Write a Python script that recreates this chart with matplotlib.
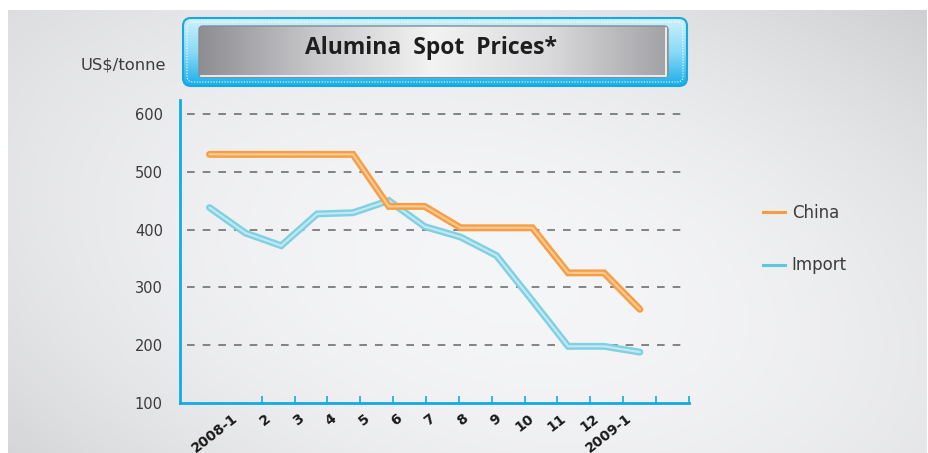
import numpy as np
import matplotlib
matplotlib.use("Agg")
import matplotlib.pyplot as plt
import matplotlib.transforms as mtransforms
from matplotlib.patches import FancyBboxPatch
from matplotlib.lines import Line2D
from matplotlib.colors import LinearSegmentedColormap

# data
months = ["2008-1", "2", "3", "4", "5", "6", "7", "8", "9", "10", "11", "12", "2009-1"]
china = [530, 530, 530, 530, 530, 440, 440, 403, 403, 403, 325, 325, 262]
imports = [438, 394, 372, 427, 429, 450, 405, 387, 355, 277, 198, 198, 188]
y_ticks = [100, 200, 300, 400, 500, 600]
grid_levels = [200, 300, 400, 500, 600]

W, H = 929, 453
fig = plt.figure(figsize=(W / 100, H / 100), dpi=100)
fig.patch.set_facecolor("white")

# ---- background gradient (pixel coords) ----
bg = fig.add_axes([0, 0, 1, 1], zorder=0)
bg.set_xlim(0, W)
bg.set_ylim(H, 0)
bg.axis("off")
xx, yy = np.meshgrid(np.arange(8, 927), np.arange(10, H))
fx, fy = xx / W, yy / H
d2 = ((xx - 480) / 600.0) ** 2 + ((yy - 230) / 360.0) ** 2
v = 242 - 28 * d2 + 15 * fx * fy - 9 * fx * (1 - fy) + 8 * (1 - fx) * (1 - fy)
v = np.clip(v, 180, 248) / 255.0
img = np.dstack([v - 0.004, v - 0.002, v + 0.004]).clip(0, 1)
bg.imshow(img, extent=(8, 927, H, 10), aspect="auto", interpolation="bilinear")


def grad_box(axh, x0, y0, x1, y1, r, colors, horizontal=False, **kw):
    box = FancyBboxPatch((x0, y0), x1 - x0, y1 - y0,
                         boxstyle=f"round,pad=0,rounding_size={r}", **kw)
    axh.add_patch(box)
    cmap = LinearSegmentedColormap.from_list("g", colors)
    g = np.linspace(0, 1, 256)
    arr = g[None, :] if horizontal else g[:, None]
    im = axh.imshow(arr, cmap=cmap, extent=(x0, x1, y1, y0), aspect="auto",
                    interpolation="bilinear", zorder=box.get_zorder() - 0.1)
    im.set_clip_path(box)
    return box


# ---- main axes ----
ax = fig.add_axes([180 / W, 1 - 403 / H, 509 / W, 303 / H], zorder=2)
ax.patch.set_alpha(0)
x = np.arange(len(months))
ax.set_xlim(-0.822, 13.368)
ax.set_ylim(100, 624)

for lv in grid_levels:
    ax.axhline(lv, xmin=0.013, xmax=0.998, color="#707070", lw=1.2,
               dashes=(4.6, 4.8), zorder=1)

ax.plot(x, imports, color="#80d0e2", lw=5.0, solid_capstyle="round",
        solid_joinstyle="miter", zorder=3)
ax.plot(x, imports, color="#bfeaf4", lw=1.6, solid_capstyle="round", zorder=3.1)
ax.plot(x, china, color="#f59e45", lw=5.0, solid_capstyle="round",
        solid_joinstyle="miter", zorder=4)
ax.plot(x, china, color="#fcc990", lw=1.6, solid_capstyle="round", zorder=4.1)

cyan = "#12aae6"
for s in ["top", "right"]:
    ax.spines[s].set_visible(False)
for s in ["left", "bottom"]:
    ax.spines[s].set_color(cyan)
    ax.spines[s].set_linewidth(2.0)
ax.set_xticks([])
ax.set_yticks(y_ticks)
ax.set_yticklabels([str(t) for t in y_ticks])
ax.tick_params(axis="y", length=0, pad=12.3, labelsize=10.5, labelcolor="#3a3a3a")

# category axis with its own spacing
ax2 = ax.twiny()
ax2.set_xlim(-1.489, 14.005)
ax2.xaxis.set_ticks_position("bottom")
ax2.xaxis.set_label_position("bottom")
ax2.xaxis.remove_overlapping_locs = False
for s in ax2.spines.values():
    s.set_visible(False)
ax2.set_xticks(np.arange(len(months)))
ax2.set_xticklabels(months)
ax2.set_xticks(np.arange(1, 15), minor=True)
ax2.tick_params(axis="x", which="major", length=0, pad=6.0)
ax2.tick_params(axis="x", which="minor", direction="in", length=5, width=1.2,
                color=cyan)
off = mtransforms.ScaledTranslation(3 / 100, 0, fig.dpi_scale_trans)
for lab in ax2.get_xticklabels():
    lab.set_rotation(38)
    lab.set_ha("right")
    lab.set_va("top")
    lab.set_rotation_mode("anchor")
    lab.set_fontsize(10)
    lab.set_fontweight("bold")
    lab.set_color("#1a1a1a")
    lab.set_transform(lab.get_transform() + off)

# ---- title box & labels (pixel coords overlay) ----
top = fig.add_axes([0, 0, 1, 1], zorder=3)
top.set_xlim(0, W)
top.set_ylim(H, 0)
top.axis("off")
grad_box(top, 183, 18, 687, 86, 8, ["#cdf2fd", "#8adaf7", "#1aaee8"],
         facecolor="none", edgecolor="#16a8e2", lw=1.5, zorder=5)
top.add_patch(FancyBboxPatch((187, 22), 496, 60,
                             boxstyle="round,pad=0,rounding_size=6",
                             facecolor="none", edgecolor="white", lw=0.8,
                             linestyle=(0, (1, 1.5)), zorder=5.5))
grad_box(top, 199, 26, 668, 77, 4,
         ["#8e8e92", "#c9c9cc", "#f3f3f3", "#dadadc", "#a2a2a6"],
         horizontal=True, facecolor="none", edgecolor="#8a8a8e", lw=1.0, zorder=6)
top.plot([201, 666, 666], [76, 76, 28], color="#fafafa", lw=1.2, zorder=6.5)
top.text(431, 48, "Alumina  Spot  Prices*", ha="center", va="center",
         fontsize=16.5, fontweight="bold", family="Open Sans", color="#1e1e1e",
         zorder=7)
top.text(166, 65, "US$/tonne", ha="right", va="center", fontsize=11.8,
         color="#3c3c3c", zorder=7)

handles = [Line2D([], [], color="#f39c44", lw=2.2),
           Line2D([], [], color="#5cc8dc", lw=2.2)]
leg = fig.legend(handles, ["China", "Import"], loc="center left",
                 bbox_to_anchor=(762.7 / W, 1 - 239.3 / H), frameon=False,
                 fontsize=12, handlelength=1.34, handletextpad=0.4,
                 labelspacing=2.06, borderpad=0, borderaxespad=0)
for t in leg.get_texts():
    t.set_color("#3c3c3c")

fig.savefig("out.png", dpi=100)
